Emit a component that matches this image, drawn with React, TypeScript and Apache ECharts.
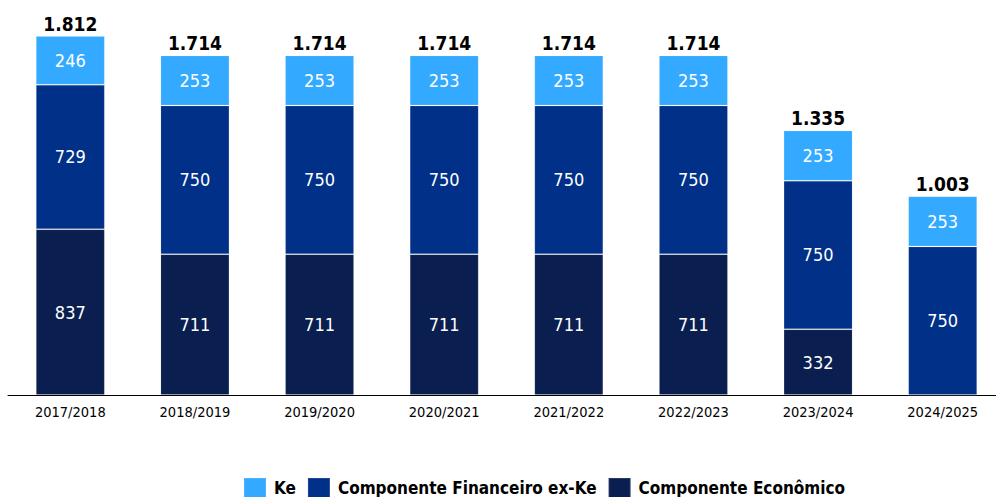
import React, { useEffect, useRef } from "react";
import * as echarts from "echarts";

const categories = ["2017/2018", "2018/2019", "2019/2020", "2020/2021", "2021/2022", "2022/2023", "2023/2024", "2024/2025"];
const economico = [837, 711, 711, 711, 711, 711, 332, 0];
const financeiro = [729, 750, 750, 750, 750, 750, 750, 750];
const ke = [246, 253, 253, 253, 253, 253, 253, 253];
const totals = [1812, 1714, 1714, 1714, 1714, 1714, 1335, 1003];

const FONT = "'DejaVu Sans Condensed', 'DejaVu Sans', sans-serif";

const fmt = (v: number) => String(v).replace(/\B(?=(\d{3})+(?!\d))/g, ".");

export default function App() {
  const ref = useRef<HTMLDivElement>(null);
  useEffect(() => {
    if (!ref.current) return;
    const chart = echarts.init(ref.current, null, { renderer: "svg" });
    const inner = {
      show: true,
      position: "inside",
      color: "#ffffff",
      fontFamily: FONT,
      fontSize: 18,
      formatter: (p: any) => (p.value ? String(p.value) : ""),
    };
    const barItem = (c: string) => ({ color: c, borderColor: "rgba(255,255,255,0.12)", borderWidth: 1 });
    chart.setOption({
      animation: false,
      grid: { left: 8, width: 997, top: 36, bottom: 102, containLabel: false, outerBoundsMode: "none" },
      xAxis: {
        type: "category",
        data: categories,
        axisLine: { lineStyle: { color: "#000", width: 1 } },
        axisTick: { show: false },
        axisLabel: { color: "#000", fontFamily: FONT, fontSize: 14.5, margin: 9 },
      },
      yAxis: { type: "value", min: 0, max: 1812, show: false, splitLine: { show: false } },
      legend: {
        top: 477,
        left: 243,
        padding: 0,
        itemWidth: 22,
        itemHeight: 20,
        itemGap: 11,
        icon: "rect",
        textStyle: { fontFamily: FONT, fontSize: 17, fontWeight: "bold", color: "#000", padding: [2, 0, 0, 3] },
        data: ["Ke", "Componente Financeiro ex-Ke", "Componente Econômico"],
      },
      series: [
        {
          name: "Componente Econômico",
          type: "bar",
          stack: "a",
          barWidth: 69,
          data: economico,
          itemStyle: barItem("#0a1f4f"),
          label: inner,
        },
        {
          name: "Componente Financeiro ex-Ke",
          type: "bar",
          stack: "a",
          data: financeiro,
          itemStyle: barItem("#003087"),
          label: inner,
        },
        {
          name: "Ke",
          type: "bar",
          stack: "a",
          data: ke,
          itemStyle: barItem("#33aaff"),
          label: inner,
        },
        {
          name: "total",
          type: "bar",
          stack: "a",
          data: totals.map(() => 0),
          itemStyle: { color: "transparent" },
          label: {
            show: true,
            position: "top",
            distance: 3,
            color: "#000",
            fontFamily: FONT,
            fontSize: 19,
            fontWeight: "bold",
            formatter: (p: any) => fmt(totals[p.dataIndex]),
          },
        },
      ],
    });
    return () => chart.dispose();
  }, []);
  return <div ref={ref} style={{ width: 996, height: 497, position: "absolute", left: 0, top: 0 }} />;
}
